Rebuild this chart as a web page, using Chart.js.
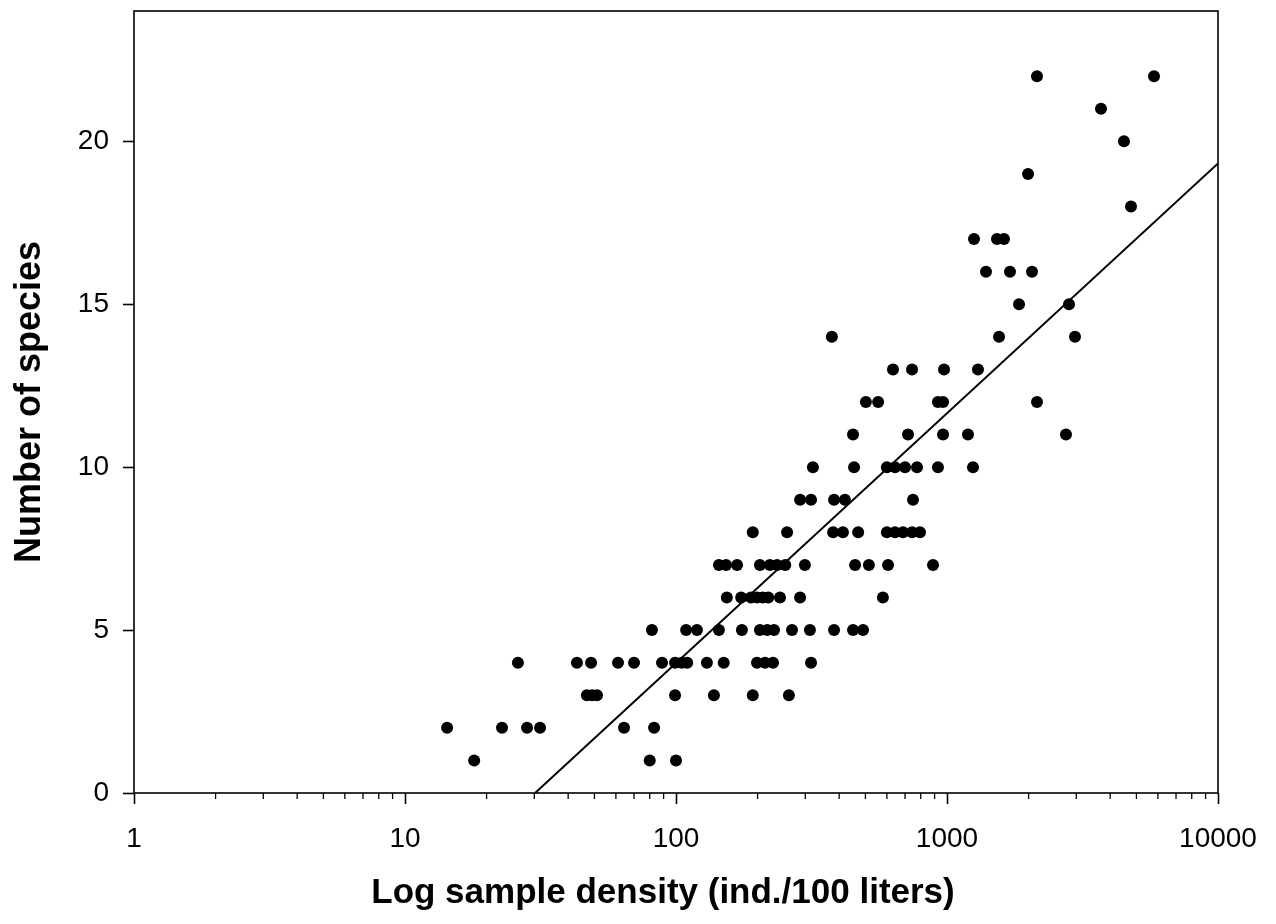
<!DOCTYPE html>
<html>
<head>
<meta charset="utf-8">
<script src="https://cdn.jsdelivr.net/npm/chart.js@4.4.1/dist/chart.umd.min.js"></script>
<style>
  html, body { margin: 0; padding: 0; background: #ffffff; }
  #c { display: block; }
</style>
</head>
<body>
<canvas id="c" width="1276" height="924"></canvas>
<script>
// ---- data ----
const density = [
  18, 80, 100,
  14.3, 22.8, 28.2, 31.5, 64.3, 83,
  46.9, 49, 51.1, 99.2, 138, 192, 261,
  26.1, 43.1, 48.6, 61.1, 70, 88.8, 99.2, 105, 110, 130, 150, 199, 213, 228, 315,
  81.5, 109, 119.5, 144, 175, 204, 217, 230, 268, 312, 383, 450, 490,
  154, 174, 189, 199, 209, 219, 242, 287, 580,
  144, 153, 168, 204, 222, 236, 253, 299, 458, 515, 606, 888,
  192, 257, 380, 413, 470, 600, 643, 688, 743, 795,
  287, 315, 383, 420, 749,
  320, 454, 600, 643, 700, 775, 926, 1247,
  450, 718, 967, 1195, 2748,
  502, 557, 926, 967, 2148,
  632, 743, 975, 1301,
  376, 1556, 2967,
  1844, 2820,
  1393, 1708, 2059,
  1258, 1529, 1623,
  4775,
  1991,
  4498,
  3700,
  2148, 5806
];
const species = [
  1, 1, 1,
  2, 2, 2, 2, 2, 2,
  3, 3, 3, 3, 3, 3, 3,
  4, 4, 4, 4, 4, 4, 4, 4, 4, 4, 4, 4, 4, 4, 4,
  5, 5, 5, 5, 5, 5, 5, 5, 5, 5, 5, 5, 5,
  6, 6, 6, 6, 6, 6, 6, 6, 6,
  7, 7, 7, 7, 7, 7, 7, 7, 7, 7, 7, 7,
  8, 8, 8, 8, 8, 8, 8, 8, 8, 8,
  9, 9, 9, 9, 9,
  10, 10, 10, 10, 10, 10, 10, 10,
  11, 11, 11, 11, 11,
  12, 12, 12, 12, 12,
  13, 13, 13, 13,
  14, 14, 14,
  15, 15,
  16, 16, 16,
  17, 17, 17,
  18,
  19,
  20,
  21,
  22, 22
];
const fitX = [30.2, 10000];
const fitY = [0, 19.32];
const xTicks = [1, 10, 100, 1000, 10000];
const xTickLabels = ['1', '10', '100', '1000', '10000'];
const yTicks = [0, 5, 10, 15, 20];
const xTitle = 'Log sample density (ind./100 liters)';
const yTitle = 'Number of species';

const FONT = "'Liberation Sans', Arial, Helvetica, sans-serif";

const points = density.map((d, i) => ({ x: d, y: species[i] }));
const fitLine = fitX.map((d, i) => ({ x: d, y: fitY[i] }));

const framePlugin = {
  id: 'frameAndMinor',
  afterDraw(chart) {
    const { ctx, chartArea } = chart;
    const xs = chart.scales.x;
    ctx.save();
    ctx.strokeStyle = '#000';
    ctx.lineWidth = 1.6;
    ctx.strokeRect(chartArea.left, chartArea.top, chartArea.right - chartArea.left, chartArea.bottom - chartArea.top);
    // minor log ticks
    ctx.lineWidth = 1.3;
    ctx.beginPath();
    for (let k = 0; k < xTicks.length - 1; k++) {
      for (let m = 2; m <= 9; m++) {
        const px = xs.getPixelForValue(xTicks[k] * m);
        ctx.moveTo(px, chartArea.bottom);
        ctx.lineTo(px, chartArea.bottom + 6);
      }
    }
    ctx.stroke();
    // x-axis title, drawn slightly right of the plot centre as in the reference
    ctx.fillStyle = '#000';
    ctx.font = "bold 35px " + FONT;
    ctx.textAlign = 'center';
    ctx.textBaseline = 'middle';
    ctx.fillText(xTitle, (chartArea.left + chartArea.right) / 2 - 13, 893);
    ctx.restore();
  }
};

new Chart(document.getElementById('c'), {
  data: {
    datasets: [
      {
        type: 'scatter',
        data: points,
        backgroundColor: '#000',
        borderColor: '#000',
        pointRadius: 6,
        pointHoverRadius: 6,
        borderWidth: 0
      },
      {
        type: 'line',
        data: fitLine,
        borderColor: '#000',
        borderWidth: 2,
        pointRadius: 0,
        fill: false,
        tension: 0
      }
    ]
  },
  options: {
    responsive: false,
    animation: false,
    devicePixelRatio: 1,
    layout: { padding: { left: 0, right: 58, top: 11, bottom: 0 } },
    plugins: {
      legend: { display: false },
      tooltip: { enabled: false }
    },
    scales: {
      x: {
        type: 'logarithmic',
        position: 'bottom',
        min: 1,
        max: 10000,
        afterBuildTicks(scale) { scale.ticks = xTicks.map(v => ({ value: v })); },
        afterFit(scale) {
          scale.height = 131;
          scale.paddingLeft = 0; scale.paddingRight = 0;
          scale.paddingTop = 0; scale.paddingBottom = 0;
        },
        border: { display: false },
        grid: { display: true, drawOnChartArea: false, drawTicks: true, tickLength: 11, tickColor: '#000', tickWidth: 1.6 },
        ticks: {
          color: '#000',
          font: { family: FONT, size: 28 },
          padding: 18,
          maxRotation: 0,
          autoSkip: false,
          callback: (v, i) => xTickLabels[i]
        },
        title: { display: false }
      },
      y: {
        type: 'linear',
        position: 'left',
        min: 0,
        max: 24,
        afterBuildTicks(scale) { scale.ticks = yTicks.map(v => ({ value: v })); },
        afterFit(scale) {
          scale.width = 134;
          scale.paddingLeft = 0; scale.paddingRight = 0;
          scale.paddingTop = 0; scale.paddingBottom = 0;
        },
        border: { display: false },
        grid: { display: true, drawOnChartArea: false, drawTicks: true, tickLength: 11, tickColor: '#000', tickWidth: 1.6 },
        ticks: {
          color: '#000',
          font: { family: FONT, size: 28 },
          padding: 14,
          callback: (v) => String(v)
        },
        title: {
          display: true,
          text: yTitle,
          color: '#000',
          font: { family: FONT, size: 36, weight: 'bold' },
          padding: { top: 8, bottom: 0 }
        }
      }
    }
  },
  plugins: [framePlugin]
});
</script>
</body>
</html>
